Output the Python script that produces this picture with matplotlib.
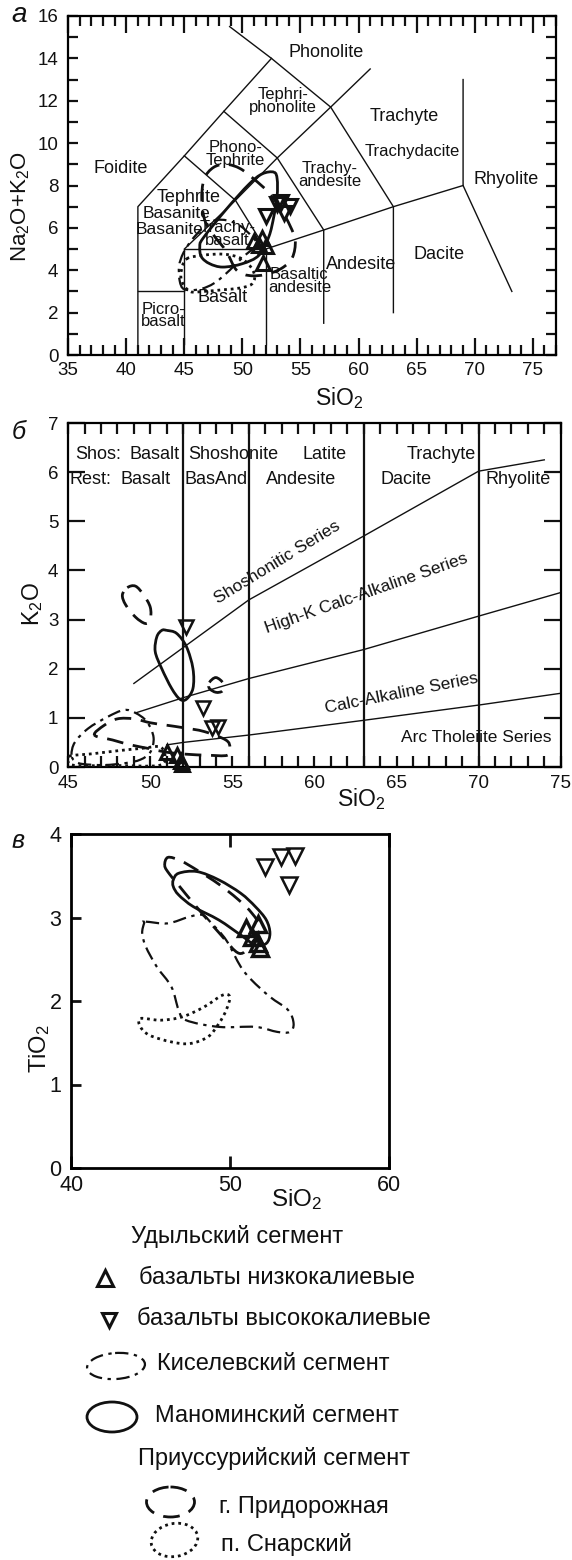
import numpy as np
import matplotlib
matplotlib.use("Agg")
import matplotlib.pyplot as plt
from matplotlib.path import Path
import matplotlib.patches as patches

plt.rcParams['font.family'] = ['Liberation Sans', 'DejaVu Sans']
plt.rcParams['mathtext.default'] = 'regular'

W, H = 572, 1560

# ---- panel a: TAS diagram ----
tas_lines = [
    [(41, 0.5), (41, 7), (45, 9.4), (48.4, 11.5), (52.5, 14)],
    [(48.9, 15.5), (52.5, 14), (57.6, 11.7), (63, 7), (63, 2)],
    [(45, 0.5), (45, 5), (52, 5), (52, 0.5)],
    [(41, 3), (45, 3)],
    [(45, 5), (49.4, 7.3), (53, 9.3), (57.6, 11.7), (61, 13.5)],
    [(45, 9.4), (49.4, 7.3), (52, 5)],
    [(48.4, 11.5), (53, 9.3), (57, 5.9), (57, 1.5)],
    [(52, 5), (57, 5.9), (63, 7), (69, 8), (69, 13)],
    [(69, 8), (73.2, 3)],
]
tas_names = ['Phonolite', 'Tephri-\nphonolite', 'Trachyte', 'Trachydacite', 'Rhyolite',
             'Foidite', 'Phono-\nTephrite', 'Trachy-\nandesite', 'Tephrite', 'Basanite',
             'Basanite', 'Trachy-\nbasalt', 'Dacite', 'Andesite', 'Basaltic\nandesite',
             'Basalt', 'Picro-\nbasalt']
tas_name_x = [57.2, 53.5, 63.9, 64.6, 72.7, 39.5, 49.4, 57.5, 45.4, 44.35,
              43.7, 48.7, 66.9, 60.2, 54.9, 48.25, 43.2]
tas_name_y = [14.3, 12.0, 11.25, 9.6, 8.26, 8.8, 9.5, 8.5, 7.43, 6.66,
              5.9, 5.72, 4.75, 4.25, 3.5, 2.72, 1.87]

a_low_si = [51.0, 51.7, 51.4, 52.0, 51.75]
a_low_alk = [5.4, 5.5, 5.2, 5.15, 4.35]
a_high_si = [52.0, 53.0, 53.3, 54.1, 53.55]
a_high_alk = [6.55, 7.15, 7.2, 7.05, 6.7]

a_kisel_x = [45.0, 44.6, 44.55, 44.9, 45.6, 46.6, 47.6, 48.7, 49.8, 50.8, 51.2, 50.0, 48.9, 47.6, 46.3]
a_kisel_y = [3.1, 3.5, 4.2, 4.8, 5.4, 6.0, 6.35, 6.35, 6.1, 5.6, 5.2, 4.6, 4.0, 3.4, 3.1]
a_mano_x = [52.71, 52.99, 52.99, 52.71, 52.28, 51.43, 50.0, 48.31, 47.18, 46.47, 46.33, 46.61, 48.6, 50.58, 51.71]
a_mano_y = [8.63, 8.31, 7.51, 6.55, 5.59, 4.71, 4.31, 4.15, 4.31, 4.63, 5.11, 5.51, 6.87, 8.07, 8.55]
a_prid_x = [46.5, 46.7, 47.5, 48.6, 49.8, 51.0, 52.2, 53.3, 54.1, 54.55, 54.3, 53.4, 52.0, 50.6, 49.5, 48.6, 47.6, 46.8]
a_prid_y = [7.3, 8.3, 8.85, 9.0, 8.8, 8.3, 7.7, 6.9, 6.1, 5.4, 4.6, 4.1, 3.8, 3.75, 4.0, 4.9, 5.6, 6.3]
a_snar_x = [45.2, 46.63, 48.34, 49.77, 50.63, 51.06, 50.77, 49.77, 48.34, 46.63, 45.49, 44.77, 44.77]
a_snar_y = [4.54, 4.71, 4.76, 4.59, 4.22, 3.73, 3.33, 3.16, 3.08, 3.0, 3.0, 3.49, 4.06]

# ---- panel b: K2O vs SiO2 ----
b_vlines = [52, 56, 63, 70]
b_shos_x = [49, 56, 63, 70, 74]
b_shos_y = [1.7, 3.4, 4.7, 6.02, 6.25]
b_highk_x = [49.1, 52, 56, 63, 70, 75]
b_highk_y = [1.1, 1.41, 1.8, 2.39, 3.07, 3.55]
b_calc_x = [51, 52, 56, 63, 70, 75]
b_calc_y = [0.45, 0.5, 0.65, 0.95, 1.26, 1.5]

b_low_si = [51.0, 51.65, 51.85, 51.95]
b_low_k = [0.3, 0.25, 0.12, 0.06]
b_high_si = [52.2, 53.2, 53.75, 54.15]
b_high_k = [2.85, 1.2, 0.8, 0.82]

b_kisel_x = [45.2, 45.4, 46.2, 47.4, 48.4, 49.1, 49.8, 50.2, 50.0, 49.4, 48.5, 47.2, 45.9, 45.4]
b_kisel_y = [0.25, 0.5, 0.78, 1.02, 1.16, 1.1, 0.92, 0.6, 0.3, 0.15, 0.08, 0.04, 0.06, 0.12]
b_mano_x = [51.0, 51.6, 52.2, 52.6, 52.6, 52.2, 51.8, 51.3, 50.7, 50.3, 50.4, 50.7]
b_mano_y = [2.78, 2.72, 2.45, 2.0, 1.6, 1.38, 1.38, 1.6, 2.0, 2.35, 2.65, 2.78]
b_prid1_x = [48.6, 49.1, 49.6, 50.0, 50.0, 49.7, 49.1, 48.5, 48.3]
b_prid1_y = [3.65, 3.68, 3.5, 3.25, 3.0, 2.92, 3.05, 3.3, 3.5]
b_prid2_x = [53.6, 54.0, 54.45, 54.4, 54.0, 53.6]
b_prid2_y = [1.72, 1.82, 1.7, 1.55, 1.52, 1.6]
b_prid3_x = [46.6, 47.2, 48.0, 49.0, 50.0, 51.0, 52.0, 53.3, 54.6, 54.85, 54.7, 53.5, 52.2, 51.0, 50.0, 48.8, 47.7]
b_prid3_y = [0.65, 0.85, 0.98, 0.98, 0.9, 0.85, 0.8, 0.72, 0.55, 0.4, 0.24, 0.24, 0.26, 0.3, 0.37, 0.45, 0.55]
b_snar_x = [45.05, 46.5, 48.0, 49.5, 50.6, 50.9, 50.5, 48.0, 45.5, 45.0]
b_snar_y = [0.22, 0.27, 0.33, 0.38, 0.41, 0.2, 0.03, 0.03, 0.03, 0.1]

# ---- panel c: TiO2 vs SiO2 ----
c_low_si = [51.0, 51.75, 51.4, 51.8, 51.9]
c_low_ti = [2.87, 2.92, 2.77, 2.7, 2.64]
c_high_si = [52.2, 53.2, 54.1, 53.7]
c_high_ti = [3.6, 3.72, 3.74, 3.39]

c_kisel_x = [44.71, 46.09, 47.47, 48.28, 48.85, 49.77, 50.69, 51.38, 52.53, 53.68, 54.02, 53.79,
             52.99, 51.61, 49.31, 47.24, 46.78, 46.32, 45.4, 44.71, 44.48, 44.6]
c_kisel_y = [2.95, 2.93, 3.01, 3.03, 2.93, 2.73, 2.41, 2.25, 2.05, 1.89, 1.73, 1.63,
             1.63, 1.69, 1.69, 1.77, 1.89, 2.17, 2.41, 2.65, 2.81, 2.93]
c_mano_x = [46.44, 46.78, 47.93, 49.31, 50.69, 51.61, 52.3, 52.53, 52.3, 51.61, 50.69, 49.31, 47.7, 46.78, 46.44]
c_mano_y = [3.45, 3.53, 3.55, 3.45, 3.29, 3.13, 2.97, 2.81, 2.69, 2.67, 2.79, 2.97, 3.13, 3.27, 3.37]
c_prid_x = [45.9, 46.1, 46.9, 48.0, 49.3, 50.5, 51.4, 51.9, 51.4, 50.6, 49.4, 47.8, 46.8, 46.2]
c_prid_y = [3.62, 3.72, 3.68, 3.56, 3.4, 3.22, 3.05, 2.88, 2.7, 2.57, 2.8, 3.15, 3.38, 3.52]
c_snar_x = [44.37, 45.63, 47.01, 48.39, 49.54, 50.0, 49.77, 49.31, 48.62, 47.47, 46.32, 44.94, 44.37]
c_snar_y = [1.79, 1.77, 1.81, 1.93, 2.07, 2.05, 1.89, 1.73, 1.57, 1.49, 1.51, 1.59, 1.69]

legend_items = ['Удыльский сегмент', 'базальты низкокалиевые', 'базальты высококалиевые',
                'Киселевский сегмент', 'Маноминский сегмент', 'Приуссурийский сегмент',
                'г. Придорожная', 'п. Снарский']

# contour styles
KISEL = dict(ls=(0, (6, 2.5, 1.5, 2.5)), lw=1.6)
MANO = dict(ls='-', lw=2.0)
PRID = dict(ls=(0, (6, 3.5)), lw=2.0)
SNAR = dict(ls=(0, (1, 1.4)), lw=2.0)
INK = '#111111'


def closed_curve(xs, ys):
    # smooth closed Bezier path through the outline points
    pts = np.column_stack([xs, ys]).astype(float)
    n = len(pts)
    verts = [pts[0]]
    codes = [Path.MOVETO]
    for i in range(n):
        p0, p1, p2, p3 = pts[i - 1], pts[i], pts[(i + 1) % n], pts[(i + 2) % n]
        verts += [p1 + (p2 - p0) / 6.0, p2 - (p3 - p1) / 6.0, p2]
        codes += [Path.CURVE4] * 3
    return Path(verts, codes)


def outline(ax, xs, ys, style):
    ax.add_patch(patches.PathPatch(closed_curve(xs, ys), fill=False, edgecolor=INK,
                                   linestyle=style['ls'], linewidth=style['lw'], zorder=3))


def frac(x0, y0, x1, y1):
    return [x0 / W, 1 - y1 / H, (x1 - x0) / W, (y1 - y0) / H]


fig = plt.figure(figsize=(W / 100, H / 100), dpi=100)

# ------------------------- a -------------------------
ax = fig.add_axes(frac(68.2, 16, 556, 355))
for seg in tas_lines:
    seg = np.array(seg)
    ax.plot(seg[:, 0], seg[:, 1], color=INK, lw=1.0, zorder=2)
for name, x, y in zip(tas_names, tas_name_x, tas_name_y):
    if name == 'Basanite':
        size = 12.5
    elif '\n' in name or name == 'Trachydacite':
        size = 12
    else:
        size = 13
    ax.text(x, y, name, ha='center', va='center', fontsize=size, linespacing=0.8, color=INK, zorder=4)
outline(ax, a_kisel_x, a_kisel_y, KISEL)
outline(ax, a_mano_x, a_mano_y, MANO)
outline(ax, a_prid_x, a_prid_y, PRID)
outline(ax, a_snar_x, a_snar_y, SNAR)
ax.plot(a_low_si, a_low_alk, ls='none', marker='^', ms=10, mfc='none', mec=INK, mew=2.2, zorder=5)
ax.plot(a_high_si, a_high_alk, ls='none', marker='v', ms=10, mfc='none', mec=INK, mew=2.2, zorder=5)
ax.set_xlim(35, 77)
ax.set_ylim(0, 16)
ax.set_xticks(range(35, 80, 5))
ax.set_xticks(range(35, 78), minor=True)
ax.set_yticks(range(0, 17, 2))
ax.set_yticks(range(0, 17), minor=True)
ax.tick_params(axis='x', which='major', length=12, pad=5)
ax.tick_params(axis='x', which='minor', length=7)
ax.tick_params(axis='y', which='both', length=7, pad=7)
ax.tick_params(which='both', direction='in', top=True, right=True, width=1.6,
               labelsize=13.5, colors=INK)
for sp in ax.spines.values():
    sp.set_linewidth(1.6)
fig.text(21 / W, 1 - 207 / H, 'Na$_2$O+K$_2$O', rotation=90, ha='center', va='center', fontsize=16, color=INK)
fig.text(339 / W, 1 - 398 / H, 'SiO$_2$', ha='center', va='center', fontsize=16.5, color=INK)
fig.text(19 / W, 1 - 15 / H, 'а', style='italic', ha='center', va='center', fontsize=20, color=INK)

# ------------------------- б -------------------------
ax = fig.add_axes(frac(68.2, 423, 560.7, 767))
for xv in b_vlines:
    ax.axvline(xv, color=INK, lw=1.6, zorder=2)
ax.plot(b_shos_x, b_shos_y, color=INK, lw=1.0, zorder=2)
ax.plot(b_highk_x, b_highk_y, color=INK, lw=1.0, zorder=2)
ax.plot(b_calc_x, b_calc_y, color=INK, lw=1.0, zorder=2)
row_kw = dict(va='center', fontsize=13, color=INK)
ax.text(45.4, 6.36, 'Shos:', ha='left', **row_kw)
ax.text(48.73, 6.36, 'Basalt', ha='left', **row_kw)
ax.text(55.07, 6.36, 'Shoshonite', ha='center', **row_kw)
ax.text(60.62, 6.36, 'Latite', ha='center', **row_kw)
ax.text(67.73, 6.36, 'Trachyte', ha='center', **row_kw)
ax.text(45.07, 5.85, 'Rest:', ha='left', **row_kw)
ax.text(48.18, 5.85, 'Basalt', ha='left', **row_kw)
ax.text(54.0, 5.85, 'BasAnd', ha='center', **row_kw)
ax.text(59.18, 5.85, 'Andesite', ha='center', **row_kw)
ax.text(65.56, 5.85, 'Dacite', ha='center', **row_kw)
ax.text(72.4, 5.85, 'Rhyolite', ha='center', **row_kw)
ser_kw = dict(ha='center', va='center', fontsize=12.5, color=INK)
ax.text(57.73, 4.17, 'Shoshonitic Series', rotation=31.5, **ser_kw)
ax.text(63.18, 3.53, 'High-K Calc-Alkaline Series', rotation=19.4, **ser_kw)
ax.text(65.29, 1.49, 'Calc-Alkaline Series', rotation=11.3, **ser_kw)
ax.text(69.84, 0.6, 'Arc Tholeiite Series', **ser_kw)
outline(ax, b_kisel_x, b_kisel_y, KISEL)
outline(ax, b_mano_x, b_mano_y, MANO)
outline(ax, b_prid1_x, b_prid1_y, PRID)
outline(ax, b_prid2_x, b_prid2_y, PRID)
outline(ax, b_prid3_x, b_prid3_y, PRID)
outline(ax, b_snar_x, b_snar_y, SNAR)
ax.plot(b_low_si, b_low_k, ls='none', marker='^', ms=10.5, mfc='none', mec=INK, mew=2.2, zorder=5, clip_on=False)
ax.plot(b_high_si, b_high_k, ls='none', marker='v', ms=10.5, mfc='none', mec=INK, mew=1.8, zorder=5)
ax.set_xlim(45, 75)
ax.set_ylim(0, 7)
ax.set_xticks(range(45, 80, 5))
ax.set_xticks(range(45, 76), minor=True)
ax.set_yticks(range(0, 8))
ax.tick_params(axis='x', which='both', length=8, pad=6)
ax.tick_params(axis='y', which='major', length=12, pad=7)
ax.tick_params(which='both', direction='in', top=True, right=True, width=1.6,
               labelsize=13.5, colors=INK)
for sp in ax.spines.values():
    sp.set_linewidth(1.6)
fig.text(33 / W, 1 - 604 / H, 'K$_2$O', rotation=90, ha='center', va='center', fontsize=16.5, color=INK)
fig.text(361 / W, 1 - 799 / H, 'SiO$_2$', ha='center', va='center', fontsize=16.5, color=INK)
fig.text(19 / W, 1 - 432 / H, 'б', style='italic', ha='center', va='center', fontsize=18, color=INK)

# ------------------------- в -------------------------
ax = fig.add_axes(frac(71.1, 834, 388.5, 1168))
outline(ax, c_kisel_x, c_kisel_y, KISEL)
outline(ax, c_mano_x, c_mano_y, MANO)
outline(ax, c_prid_x, c_prid_y, PRID)
outline(ax, c_snar_x, c_snar_y, SNAR)
ax.plot(c_low_si, c_low_ti, ls='none', marker='^', ms=12, mfc='none', mec=INK, mew=2.4, zorder=5)
ax.plot(c_high_si, c_high_ti, ls='none', marker='v', ms=12, mfc='none', mec=INK, mew=1.8, zorder=5)
ax.set_xlim(40, 60)
ax.set_ylim(0, 4)
ax.set_xticks([40, 50, 60])
ax.set_yticks([0, 1, 2, 3, 4])
ax.tick_params(axis='x', length=9, pad=5, top=True)
ax.tick_params(axis='y', length=7, pad=7)
ax.tick_params(which='both', direction='in', width=2.0, labelsize=15.5, colors=INK)
for sp in ax.spines.values():
    sp.set_linewidth(2.0)
fig.text(40 / W, 1 - 1049 / H, 'TiO$_2$', rotation=90, ha='center', va='center', fontsize=17, color=INK)
fig.text(297 / W, 1 - 1200 / H, 'SiO$_2$', ha='center', va='center', fontsize=17.5, color=INK)
fig.text(18 / W, 1 - 841 / H, 'в', style='italic', ha='center', va='center', fontsize=18, color=INK)

# ------------------------- legend -------------------------
lg = fig.add_axes([0, 0, 1, 1])
lg.set_xlim(0, W)
lg.set_ylim(H, 0)
lg.axis('off')
lg.patch.set_visible(False)
txt = dict(ha='left', va='center', fontsize=17, color=INK)
lg.text(131, 1237, legend_items[0], **txt)
lg.plot([104.7], [1278], marker='^', ms=12, mfc='none', mec=INK, mew=2.2)
lg.text(138.6, 1278, legend_items[1], **txt)
lg.plot([108.7], [1320], marker='v', ms=10, mfc='none', mec=INK, mew=2.2)
lg.text(136.8, 1319, legend_items[2], **txt)
lg.add_patch(patches.Ellipse((116, 1366), 58, 26, angle=-4, fill=False, edgecolor=INK,
                             linestyle=KISEL['ls'], linewidth=KISEL['lw']))
lg.text(157, 1364, legend_items[3], **txt)
lg.add_patch(patches.Ellipse((112, 1417), 50, 30, fill=False, edgecolor=INK,
                             linestyle=MANO['ls'], linewidth=MANO['lw']))
lg.text(155, 1416, legend_items[4], **txt)
lg.text(138, 1458, legend_items[5], **txt)
lg.add_patch(patches.Ellipse((170.5, 1502), 48, 30, fill=False, edgecolor=INK,
                             linestyle=PRID['ls'], linewidth=PRID['lw']))
lg.text(219, 1507, legend_items[6], **txt)
lg.add_patch(patches.Ellipse((174.5, 1540), 47, 33, angle=-10, fill=False, edgecolor=INK,
                             linestyle=SNAR['ls'], linewidth=SNAR['lw']))
lg.text(221, 1545, legend_items[7], **txt)

fig.savefig('out.png', dpi=100)
